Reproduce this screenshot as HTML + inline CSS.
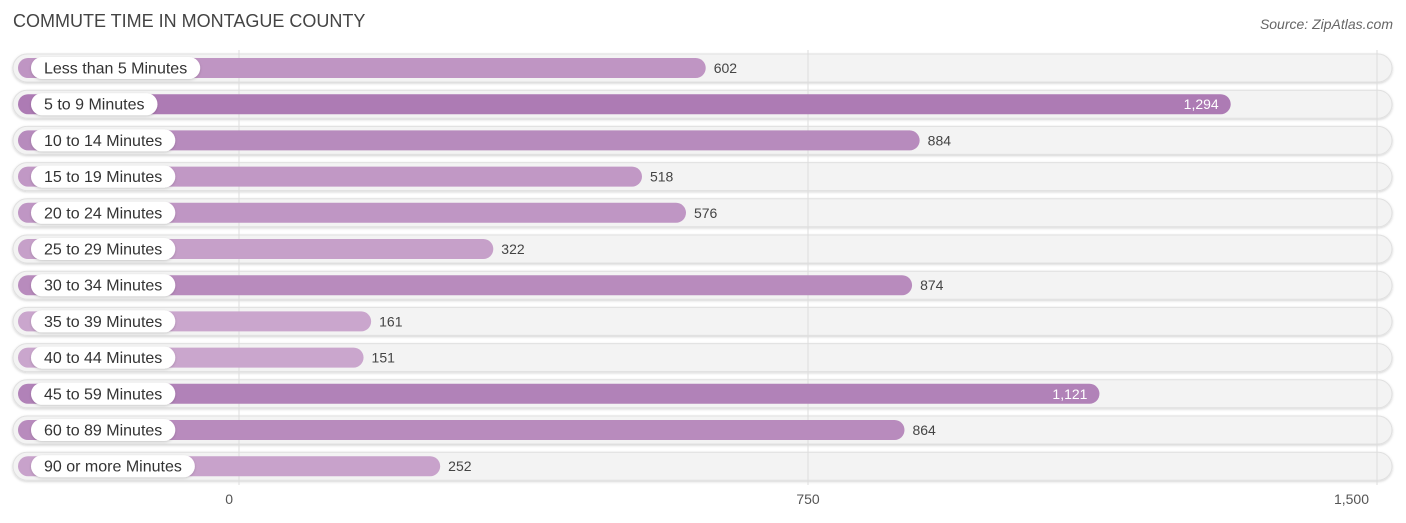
<!DOCTYPE html>
<html><head><meta charset="utf-8"><style>
body{margin:0;width:1406px;height:523px;background:#fff;font-family:"Liberation Sans",sans-serif;position:relative;overflow:hidden}
.t{position:absolute;left:13px;top:11px;font-size:18px;color:#444}
.s{position:absolute;right:13px;top:16px;font-size:14px;color:#666;font-style:italic}
</style></head><body>
<div class="t">COMMUTE TIME IN MONTAGUE COUNTY</div>
<div class="s">Source: ZipAtlas.com</div>
<svg id="c" width="1406" height="523" style="position:absolute;left:0;top:0"></svg>
<script>
const categories=["Less than 5 Minutes","5 to 9 Minutes","10 to 14 Minutes","15 to 19 Minutes","20 to 24 Minutes","25 to 29 Minutes","30 to 34 Minutes","35 to 39 Minutes","40 to 44 Minutes","45 to 59 Minutes","60 to 89 Minutes","90 or more Minutes"];
const values=[602,1294,884,518,576,322,874,161,151,1121,864,252];
const ticks=[0,750,1500];
const tickLabels=["0","750","1,500"];
const NS="http://www.w3.org/2000/svg",svg=document.getElementById('c');
const x0=239,sc=569/750;
const xs=v=>x0+v*sc;
const ys=i=>68+i*36.2;
function mk(t,a,p){const e=document.createElementNS(NS,t);for(const k in a)e.setAttribute(k,a[k]);(p||svg).appendChild(e);return e;}
const defs=mk('defs',{});
const f=mk('filter',{id:'sh',x:'-5%',y:'-50%',width:'110%',height:'200%'},defs);
mk('feDropShadow',{dx:0,dy:1,stdDeviation:1.2,'flood-color':'#000','flood-opacity':0.18},f);
categories.forEach((c,i)=>{const y=ys(i);
const tr=mk('rect',{x:13,y:y-14,width:1379,height:28,rx:14,fill:'#f3f3f3',stroke:'#e0e0e0','stroke-width':1,filter:'url(#sh)'});
});
ticks.forEach((t,i)=>{const g=mk('line',{x1:xs(t),x2:xs(t),y1:50,y2:485,stroke:'#ddd','stroke-width':1});

const anchor=i==0?'end':(i==ticks.length-1?'end':'middle');
const xx=i==0?xs(t)-6:(i==ticks.length-1?xs(t)-8:xs(t));
const l=mk('text',{x:xx,y:504,'text-anchor':anchor,'font-size':14,fill:'#555'});l.textContent=tickLabels[i];
});
const mx=Math.max(...values);
categories.forEach((c,i)=>{const y=ys(i),v=values[i];const r=v/mx;
const col=`rgb(${Math.round(206-(206-173)*r)},${Math.round(172-(172-123)*r)},${Math.round(208-(208-180)*r)})`;
const b=mk('rect',{x:18,y:y-10,width:xs(v)+10-18,height:20,rx:10,fill:col});

const p=mk('rect',{x:31,y:y-11,width:100,height:22,rx:11,fill:'#fff',filter:'url(#sh)'});

const t=mk('text',{x:44,y:y+5.5,'font-size':16,fill:'#333'});t.textContent=c;

p.setAttribute('width',t.getComputedTextLength()+26);
const inside=v>1000;const lab=v.toLocaleString('en-US');
const vt=mk('text',{x:inside?xs(v)-2:xs(v)+18,y:y+5,'font-size':14,fill:inside?'#fff':'#444','text-anchor':inside?'end':'start'});vt.textContent=lab;
});
</script></body></html>
